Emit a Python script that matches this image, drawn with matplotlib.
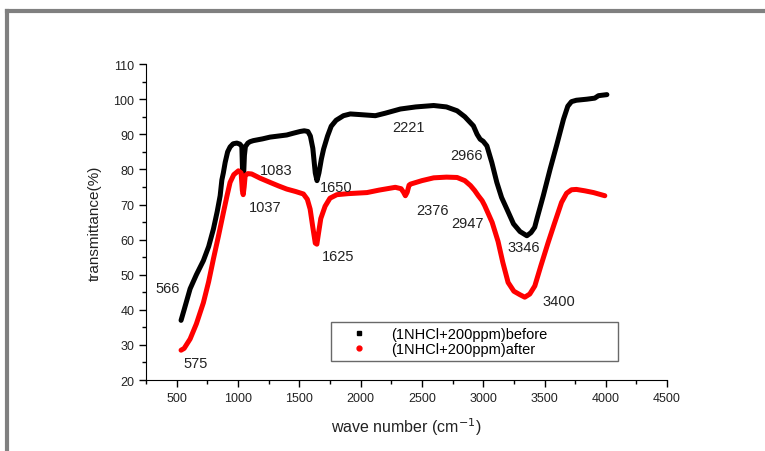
import matplotlib
matplotlib.use('Agg')
import matplotlib.pyplot as plt
from matplotlib.lines import Line2D

plt.rcParams['font.family'] = ['Liberation Sans', 'DejaVu Sans']

# FTIR spectrum before exposure (wave number, transmittance %)
wn_before = [535, 560, 609, 660, 717, 760, 799, 830, 854, 868, 880, 895, 915,
             935, 960, 990, 1015, 1031, 1037, 1045, 1052, 1060, 1080, 1098,
             1125, 1200, 1261, 1397, 1450, 1506, 1540, 1570, 1590, 1610, 1630,
             1644, 1660, 1680, 1698, 1730, 1760, 1800, 1860, 1916, 2000, 2120,
             2200, 2324, 2450, 2596, 2700, 2787, 2850, 2920, 2950, 2975, 3000,
             3030, 3070, 3111, 3150, 3193, 3247, 3300, 3356, 3390, 3420, 3438,
             3490, 3546, 3600, 3655, 3690, 3720, 3760, 3845, 3910, 3940, 4009]
tr_before = [37.0, 40.0, 46.0, 50.0, 54.0, 58.0, 63.0, 68.0, 72.5, 77.0, 79.0,
             82.0, 85.0, 86.4, 87.3, 87.5, 87.2, 86.5, 79.0, 78.0, 84.0, 86.5,
             87.5, 87.9, 88.2, 88.7, 89.2, 89.8, 90.3, 90.8, 91.0, 90.8, 89.5,
             86.0, 79.0, 76.8, 79.0, 83.0, 85.8, 89.5, 92.3, 94.0, 95.3, 95.8,
             95.6, 95.3, 96.0, 97.2, 97.8, 98.2, 97.8, 96.7, 95.0, 92.4, 90.0,
             88.6, 88.0, 86.7, 82.0, 76.3, 72.0, 68.7, 64.5, 62.3, 61.1, 62.0,
             63.5, 65.9, 72.5, 80.1, 87.0, 94.3, 98.0, 99.3, 99.7, 100.0, 100.3,
             101.0, 101.3]

# FTIR spectrum after exposure
wn_after = [535, 560, 609, 660, 717, 760, 799, 840, 881, 910, 935, 965, 1003,
            1025, 1035, 1042, 1050, 1058, 1080, 1111, 1180, 1261, 1330, 1397,
            1470, 1533, 1565, 1588, 1610, 1630, 1643, 1655, 1675, 1710, 1750,
            1806, 1900, 2052, 2150, 2283, 2330, 2350, 2365, 2380, 2395, 2406,
            2500, 2596, 2700, 2787, 2850, 2896, 2930, 2960, 2991, 3012, 3073,
            3121, 3160, 3203, 3250, 3300, 3339, 3380, 3421, 3470, 3530, 3580,
            3639, 3680, 3720, 3760, 3829, 3900, 3992]
tr_after = [28.5, 29.0, 31.7, 36.0, 42.0, 48.0, 54.5, 61.0, 67.8, 72.5, 76.3,
            78.5, 79.6, 79.0, 74.0, 72.8, 75.0, 78.2, 78.8, 78.7, 77.5, 76.3,
            75.3, 74.4, 73.7, 73.0, 71.5, 68.7, 63.5, 59.0, 58.7, 61.5, 66.0,
            69.5, 71.8, 72.8, 73.1, 73.4, 74.1, 74.9, 74.5, 73.5, 72.5, 73.5,
            75.5, 75.8, 76.8, 77.6, 77.8, 77.7, 76.8, 75.4, 74.0, 72.5, 71.1,
            69.7, 64.9, 59.5, 53.5, 47.8, 45.3, 44.3, 43.6, 44.5, 46.8, 52.5,
            59.2, 64.5, 70.6, 73.2, 74.2, 74.3, 73.9, 73.4, 72.5]

# Peak labels: text and where it sits
peak_text = ['566', '575', '1083', '1037', '1650', '1625', '2221', '2376',
             '2966', '2947', '3346', '3400']
peak_x = [429, 658, 1310, 1221, 1800, 1816, 2387, 2583, 2860, 2868, 3333, 3619]
peak_y = [46.2, 24.8, 79.8, 69.3, 75.0, 55.3, 92.0, 68.4, 84.1, 64.7, 57.9, 42.5]

fig = plt.figure(figsize=(7.65, 4.52), dpi=100)
ax = fig.add_axes([0.191, 0.157, 0.681, 0.699])

ax.plot(wn_before, tr_before, color='black', lw=3.6, solid_joinstyle='round',
        solid_capstyle='round')
ax.plot(wn_after, tr_after, color='red', lw=3.6, solid_joinstyle='round',
        solid_capstyle='round')

for t, x, y in zip(peak_text, peak_x, peak_y):
    ax.text(x, y, t, fontsize=10.5, ha='center', va='center', color='#222222')

ax.set_xlim(250, 4500)
ax.set_ylim(20, 110)
ax.set_xticks(range(500, 4501, 500))
ax.set_xticks(range(250, 4501, 250), minor=True)
ax.set_yticks(range(20, 111, 10))
ax.set_yticks(range(20, 111, 5), minor=True)
ax.spines['top'].set_visible(False)
ax.spines['right'].set_visible(False)
ax.tick_params(which='major', direction='out', length=5, width=1, labelsize=9,
               labelcolor='#222222')
ax.tick_params(which='minor', direction='out', length=3, width=1)
ax.set_xlabel('wave number (cm$^{-1}$)', fontsize=11.5, labelpad=8,
              color='#222222')
ax.set_ylabel('transmittance(%)', fontsize=11, labelpad=8, color='#222222')

# Legend with small point markers, as in the original plot software
handles = [Line2D([], [], ls='none', marker='s', ms=3, color='black'),
           Line2D([], [], ls='none', marker='o', ms=3.5, color='red')]
ax.legend(handles, ['(1NHCl+200ppm)before', '(1NHCl+200ppm)after'],
          loc='lower left', bbox_to_anchor=(0.355, 0.06, 0.551, 0.146),
          mode='expand', fontsize=10.5, frameon=True, fancybox=False,
          edgecolor='#444444', handletextpad=0.6, borderaxespad=0,
          labelspacing=0.05, handlelength=3.2, borderpad=0.35)

# Gray frame lines along the top and left edges
W, H = 765, 452
fig.add_artist(Line2D([7 / W, 1], [1 - 12 / H, 1 - 12 / H], color='#808080',
                      lw=3, transform=fig.transFigure))
fig.add_artist(Line2D([7 / W, 7 / W], [0, 1 - 12 / H], color='#808080',
                      lw=3, transform=fig.transFigure))

fig.savefig('out.png', dpi=100)
